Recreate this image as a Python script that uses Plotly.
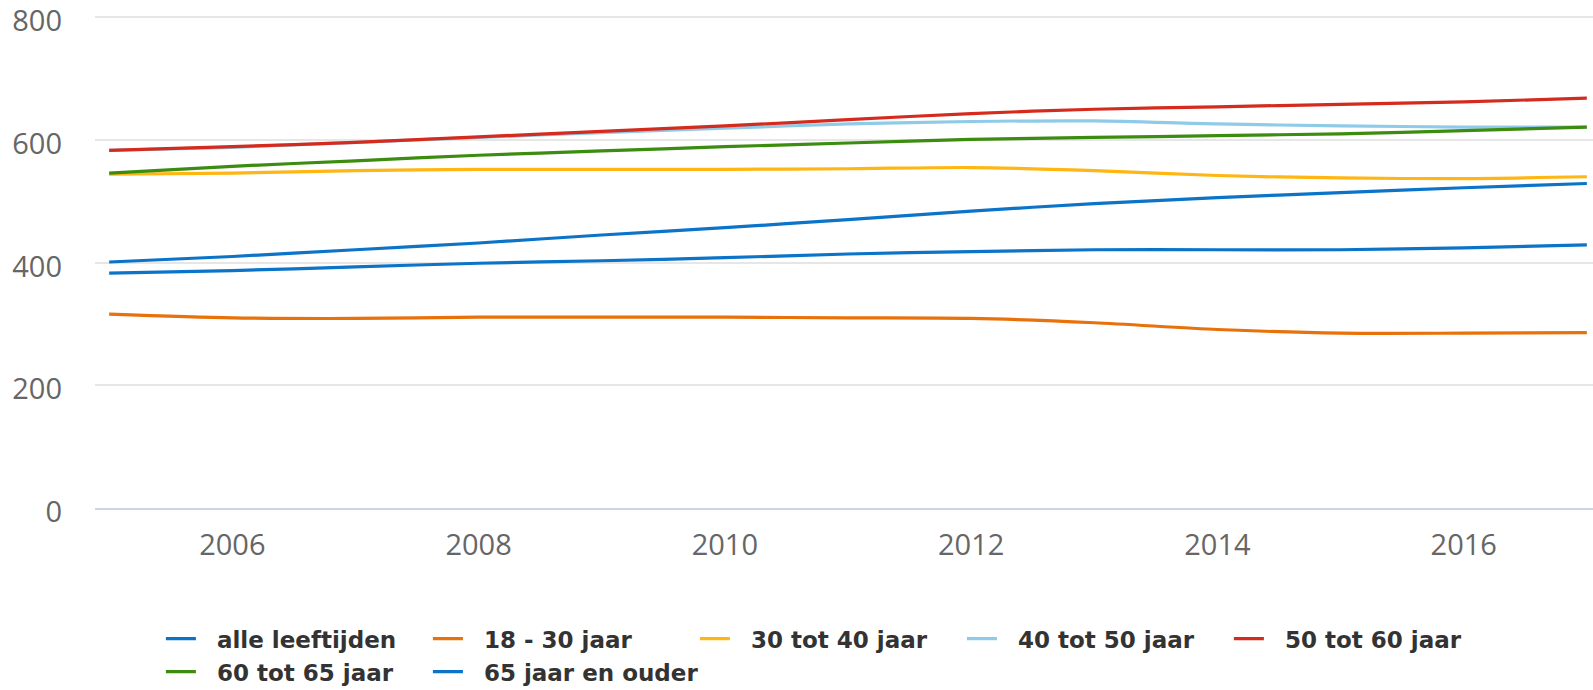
import plotly.graph_objects as go

years = [2005, 2006, 2007, 2008, 2009, 2010, 2011, 2012, 2013, 2014, 2015, 2016, 2017]

alle_leeftijden = [383, 387, 393, 399, 403, 408, 414, 418, 421, 421, 421, 424, 429]
jaar_18_30 = [316, 310, 309, 311, 311, 311, 310, 309, 302, 291, 285, 285, 286]
jaar_30_40 = [544, 546, 550, 552, 552, 552, 553, 555, 550, 542, 538, 537, 540]
jaar_40_50 = [583, 588, 596, 604, 612, 619, 626, 630, 631, 626, 623, 621, 621]
jaar_50_60 = [583, 589, 596, 605, 614, 623, 633, 643, 650, 654, 658, 662, 668]
jaar_60_65 = [546, 557, 566, 575, 582, 589, 595, 601, 604, 607, 610, 615, 621]
jaar_65_plus = [401, 410, 421, 432, 445, 457, 470, 484, 496, 506, 514, 522, 529]

series_names = ["alle leeftijden", "18 - 30 jaar", "30 tot 40 jaar", "40 tot 50 jaar",
                "50 tot 60 jaar", "60 tot 65 jaar", "65 jaar en ouder"]
series_values = [alle_leeftijden, jaar_18_30, jaar_30_40, jaar_40_50,
                 jaar_50_60, jaar_60_65, jaar_65_plus]
series_colors = ["#0b74c8", "#e8710a", "#ffb612", "#8fcbe8", "#d52b1e", "#3c8c0f", "#0b74c8"]

x_ticks = [2006, 2008, 2010, 2012, 2014, 2016]
y_ticks = [0, 200, 400, 600, 800]

fig = go.Figure()
for name, vals, col in zip(series_names, series_values, series_colors):
    fig.add_trace(go.Scatter(
        x=years, y=vals, name="\u00a0\u00a0" + name, mode="lines",
        line=dict(color=col, width=3.2, shape="spline", smoothing=0.8),
    ))

fig.update_layout(
    width=1593, height=690,
    margin=dict(l=95, r=0, t=16, b=182, autoexpand=False),
    paper_bgcolor="white", plot_bgcolor="white",
    showlegend=True,
    legend=dict(
        orientation="h",
        x=0.044, xanchor="left",
        y=-0.222, yanchor="top",
        entrywidth=222,
        font=dict(family="DejaVu Sans", size=23, color="#333333", weight="bold"),
        bgcolor="rgba(0,0,0,0)",
    ),
    xaxis=dict(
        range=[2004.885, 2017.05],
        tickvals=x_ticks,
        ticktext=[str(t) for t in x_ticks],
        showgrid=False, zeroline=False,
        showline=True, linecolor="#ccd6eb", linewidth=2,
        ticks="",
        ticklabelstandoff=10,
        ticklabeloverflow="allow",
        tickfont=dict(family="Open Sans", size=29, color="#666666"),
    ),
    yaxis=dict(
        range=[0, 802],
        tickvals=y_ticks,
        showgrid=True, gridcolor="#e6e6e6", gridwidth=1.5,
        zeroline=False, showline=False,
        ticks="",
        ticklabelstandoff=32,
        ticklabelshift=4,
        ticklabeloverflow="allow",
        tickfont=dict(family="Open Sans", size=29, color="#666666"),
    ),
)

fig.write_html("out.html", config={"displayModeBar": False},
               post_script="document.body.style.margin='0px';")
